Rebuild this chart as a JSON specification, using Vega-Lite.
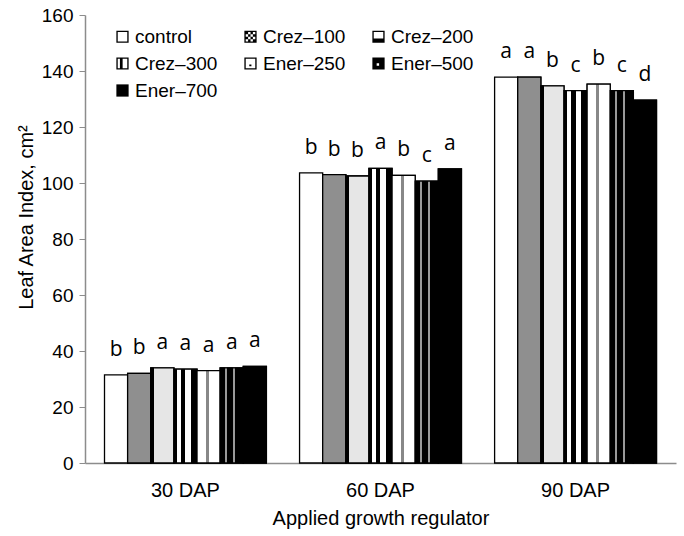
{
  "$schema": "https://vega.github.io/schema/vega-lite/v6.json",
  "width": 591,
  "height": 448,
  "autosize": {"type": "none"},
  "padding": {"left": 85, "top": 15, "right": 8, "bottom": 73},
  "background": "white",
  "config": {"view": {"stroke": null}, "font": "Liberation Sans",
    "axis": {"labelFont": "Liberation Sans", "titleFont": "Liberation Sans"},
    "legend": {"labelFont": "Liberation Sans", "padding": 0}},
  "data": {"values": [
    {"stage": "30 DAP", "trt": "control", "v": 31.5, "sig": "b"},
    {"stage": "30 DAP", "trt": "Crez–100", "v": 32.0, "sig": "b"},
    {"stage": "30 DAP", "trt": "Crez–200", "v": 34.0, "sig": "a"},
    {"stage": "30 DAP", "trt": "Crez–300", "v": 33.5, "sig": "a"},
    {"stage": "30 DAP", "trt": "Ener–250", "v": 33.0, "sig": "a"},
    {"stage": "30 DAP", "trt": "Ener–500", "v": 34.0, "sig": "a"},
    {"stage": "30 DAP", "trt": "Ener–700", "v": 34.5, "sig": "a"},
    {"stage": "60 DAP", "trt": "control", "v": 103.6, "sig": "b"},
    {"stage": "60 DAP", "trt": "Crez–100", "v": 103.0, "sig": "b"},
    {"stage": "60 DAP", "trt": "Crez–200", "v": 102.5, "sig": "b"},
    {"stage": "60 DAP", "trt": "Crez–300", "v": 105.2, "sig": "a"},
    {"stage": "60 DAP", "trt": "Ener–250", "v": 102.7, "sig": "b"},
    {"stage": "60 DAP", "trt": "Ener–500", "v": 100.7, "sig": "c"},
    {"stage": "60 DAP", "trt": "Ener–700", "v": 105.0, "sig": "a"},
    {"stage": "90 DAP", "trt": "control", "v": 137.8, "sig": "a"},
    {"stage": "90 DAP", "trt": "Crez–100", "v": 137.8, "sig": "a"},
    {"stage": "90 DAP", "trt": "Crez–200", "v": 134.7, "sig": "b"},
    {"stage": "90 DAP", "trt": "Crez–300", "v": 133.0, "sig": "c"},
    {"stage": "90 DAP", "trt": "Ener–250", "v": 135.3, "sig": "b"},
    {"stage": "90 DAP", "trt": "Ener–500", "v": 133.0, "sig": "c"},
    {"stage": "90 DAP", "trt": "Ener–700", "v": 129.6, "sig": "d"}
  ]},
  "encoding": {
    "x": {"field": "stage", "type": "nominal",
      "scale": {"paddingInner": 0.17, "paddingOuter": 0.1},
      "axis": {"title": "Applied growth regulator", "labelAngle": 0, "ticks": false,
        "labelFontSize": 20, "labelColor": "#000", "labelPadding": 17,
        "titleFontSize": 20, "titleFontWeight": "normal", "titleColor": "#000", "titlePadding": 8,
        "domainColor": "#8c8c8c", "domainWidth": 1.5}},
    "xOffset": {"field": "trt", "type": "nominal",
      "scale": {"domain": ["control", "Crez–100", "Crez–200", "Crez–300", "Ener–250", "Ener–500", "Ener–700"], "paddingInner": 0, "paddingOuter": 0}},
    "y": {"field": "v", "type": "quantitative",
      "scale": {"domain": [0, 160], "nice": false},
      "axis": {"title": "Leaf Area Index, cm²", "values": [0, 20, 40, 60, 80, 100, 120, 140, 160],
        "grid": false, "labelFontSize": 19, "labelColor": "#000", "labelPadding": 6,
        "tickColor": "#8c8c8c", "tickSize": 6, "domainColor": "#8c8c8c", "domainWidth": 1.5,
        "titleFontSize": 20, "titleFontWeight": "normal", "titleColor": "#000", "titlePadding": 5, "titleY": 202}}
  },
  "layer": [
    {
      "mark": {"type": "bar", "stroke": "black", "strokeWidth": 1.3, "fill": "#ffffff"},
      "encoding": {}
    },
    {
      "transform": [{"filter": "datum.trt === 'Crez–100'"}],
      "mark": {"type": "bar", "stroke": "black", "strokeWidth": 1.3, "fill": "#8f8f8f"},
      "encoding": {}
    },
    {
      "transform": [{"filter": "datum.trt === 'Crez–200'"}],
      "mark": {"type": "bar", "stroke": "black", "strokeWidth": 1.3,
        "fill": {"gradient": "linear", "x1": 0, "y1": 0, "x2": 1, "y2": 0, "stops": [
          {"offset": 0, "color": "#000"}, {"offset": 0.12, "color": "#000"},
          {"offset": 0.12, "color": "#e6e6e6"}, {"offset": 1, "color": "#e6e6e6"}]}},
      "encoding": {}
    },
    {
      "transform": [{"filter": "datum.trt === 'Crez–300'"}],
      "mark": {"type": "bar", "stroke": "black", "strokeWidth": 1.3,
        "fill": {"gradient": "linear", "x1": 0, "y1": 0, "x2": 1, "y2": 0, "stops": [
          {"offset": 0, "color": "#000"}, {"offset": 0.12, "color": "#000"},
          {"offset": 0.12, "color": "#fff"}, {"offset": 0.3, "color": "#fff"},
          {"offset": 0.3, "color": "#000"}, {"offset": 0.5, "color": "#000"},
          {"offset": 0.5, "color": "#fff"}, {"offset": 0.72, "color": "#fff"},
          {"offset": 0.72, "color": "#000"}, {"offset": 1, "color": "#000"}]}},
      "encoding": {}
    },
    {
      "transform": [{"filter": "datum.trt === 'Ener–250'"}],
      "mark": {"type": "bar", "stroke": "black", "strokeWidth": 1.3,
        "fill": {"gradient": "linear", "x1": 0, "y1": 0, "x2": 1, "y2": 0, "stops": [
          {"offset": 0, "color": "#fff"}, {"offset": 0.4, "color": "#fff"},
          {"offset": 0.4, "color": "#888"}, {"offset": 0.5, "color": "#888"},
          {"offset": 0.5, "color": "#fff"}, {"offset": 1, "color": "#fff"}]}},
      "encoding": {}
    },
    {
      "transform": [{"filter": "datum.trt === 'Ener–500'"}],
      "mark": {"type": "bar", "stroke": "black", "strokeWidth": 1.3,
        "fill": {"gradient": "linear", "x1": 0, "y1": 0, "x2": 1, "y2": 0, "stops": [
          {"offset": 0, "color": "#000"}, {"offset": 0.2, "color": "#000"},
          {"offset": 0.2, "color": "#999"}, {"offset": 0.28, "color": "#999"},
          {"offset": 0.28, "color": "#000"}, {"offset": 0.55, "color": "#000"},
          {"offset": 0.55, "color": "#999"}, {"offset": 0.63, "color": "#999"},
          {"offset": 0.63, "color": "#000"}, {"offset": 1, "color": "#000"}]}},
      "encoding": {}
    },
    {
      "transform": [{"filter": "datum.trt === 'Ener–700'"}],
      "mark": {"type": "bar", "stroke": "black", "strokeWidth": 1.3, "fill": "#000000"},
      "encoding": {}
    },
    {
      "mark": {"type": "point", "filled": true, "color": "#000", "opacity": 0},
      "encoding": {
        "shape": {"field": "trt", "type": "nominal",
          "scale": {"domain": ["control", "Crez–100", "Crez–200", "Crez–300", "Ener–250", "Ener–500", "Ener–700"],
            "range": [
              "M-1,-1H1V1H-1Z M-0.78,-0.78V0.78H0.78V-0.78Z",
              "M-1,-1H1V1H-1Z M-0.78,-0.78V0.78H0.78V-0.78Z M-0.78,-0.78H-0.39V-0.39H-0.78Z M0,-0.78H0.39V-0.39H0Z M-0.39,-0.39H0V0H-0.39Z M0.39,-0.39H0.78V0H0.39Z M-0.78,0H-0.39V0.39H-0.78Z M0,0H0.39V0.39H0Z M-0.39,0.39H0V0.78H-0.39Z M0.39,0.39H0.78V0.78H0.39Z",
              "M-1,-1H1V1H-1Z M-0.78,-0.78V0.78H0.78V-0.78Z M-0.78,0.3H0.78V0.78H-0.78Z",
              "M-1,-1H1V1H-1Z M-0.78,-0.78V0.78H0.78V-0.78Z M-0.42,-0.78H0.02V0.78H-0.42Z",
              "M-1,-1H1V1H-1Z M-0.78,-0.78V0.78H0.78V-0.78Z M-0.2,0.15H0.15V0.45H-0.2Z",
              "M-1,-1H1V1H-1Z M-0.3,-0.05V0.35H0.1V-0.05Z",
              "M-1,-1H1V1H-1Z"
            ]},
          "legend": {"title": null, "orient": "none", "legendX": 28, "legendY": 12,
            "direction": "horizontal", "columns": 3, "columnPadding": 23, "rowPadding": 7,
            "symbolSize": 150, "symbolOpacity": 1, "symbolFillColor": "#000", "symbolStrokeWidth": 0,
            "labelFontSize": 19, "labelColor": "#000", "labelOffset": 3, "labelLimit": 200}}
      }
    },
    {
      "mark": {"type": "text", "baseline": "alphabetic", "dy": -19, "fontSize": 21, "font": "Open Sans", "color": "#000"},
      "encoding": {"text": {"field": "sig"}}
    }
  ]
}
